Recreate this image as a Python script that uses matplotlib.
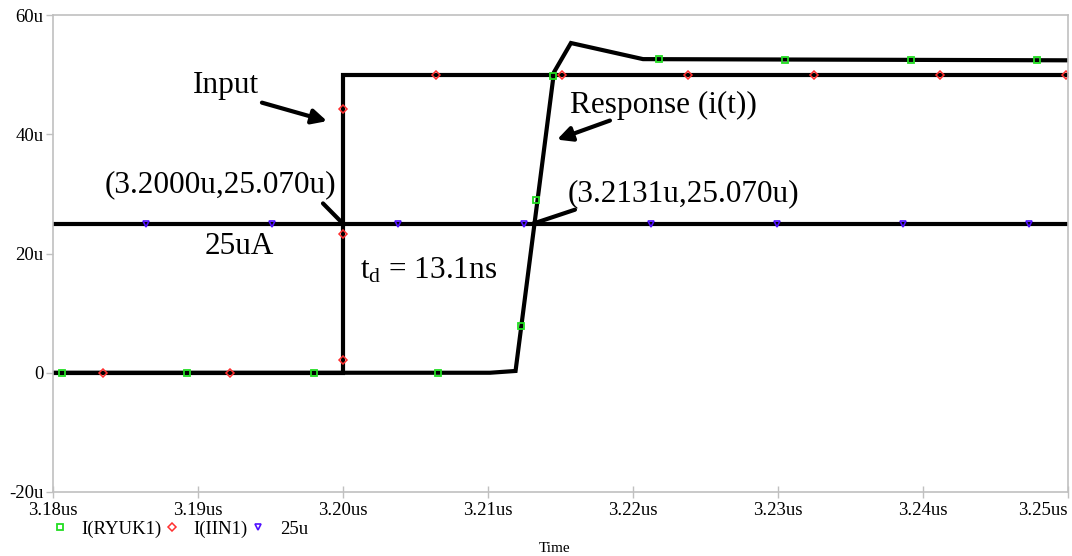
import matplotlib
matplotlib.use("Agg")
import matplotlib.pyplot as plt

plt.rcParams['font.family'] = ['Liberation Serif', 'DejaVu Serif']
plt.rcParams['mathtext.fontset'] = 'custom'
plt.rcParams['mathtext.rm'] = 'Liberation Serif'
plt.rcParams['mathtext.it'] = 'Liberation Serif:italic'

# ---- traces (time in us, current in uA) ----
t_in = [3.18, 3.20, 3.20, 3.25]
i_in = [0, 0, 50, 50]

t_resp = [3.18, 3.21014, 3.21190, 3.21455, 3.21572, 3.22069, 3.25]
i_resp = [0, 0, 0.3, 50.4, 55.3, 52.6, 52.4]

t_ref = [3.18, 3.25]
i_ref = [25, 25]

# ---- symbol markers (PSpice style) ----
mk_resp_t = [3.18062, 3.18924, 3.19800, 3.20655, 3.21228, 3.21329, 3.21450,
             3.22179, 3.23048, 3.23917, 3.24786]
mk_resp_v = [0, 0, 0, 0, 7.9, 29.0, 49.7, 52.6, 52.4, 52.4, 52.4]

mk_in_t = [3.18345, 3.19221, 3.20, 3.20, 3.20, 3.20639, 3.21508, 3.22379,
           3.23248, 3.24117, 3.24986]
mk_in_v = [0, 0, 2.2, 44.3, 23.2, 50, 50, 50, 50, 50, 50]

mk_ref_t = [3.18641, 3.19510, 3.20379, 3.21248, 3.22122, 3.22991, 3.23860, 3.24731]
mk_ref_v = [25] * 8

xticks = [3.18, 3.19, 3.20, 3.21, 3.22, 3.23, 3.24, 3.25]
xlabels = ['3.18us', '3.19us', '3.20us', '3.21us', '3.22us', '3.23us', '3.24us', '3.25us']
yticks = [-20, 0, 20, 40, 60]
ylabels = ['-20u', '0', '20u', '40u', '60u']

fig = plt.figure(figsize=(10.72, 5.56), dpi=100)
ax = fig.add_axes([53/1072, 1-492/556, (1068-53)/1072, (492-15)/556])

lw = 3
ax.plot(t_ref, i_ref, color='black', lw=lw, solid_capstyle='butt')
ax.plot(t_in, i_in, color='black', lw=lw, solid_joinstyle='miter')
ax.plot(t_resp, i_resp, color='black', lw=lw, solid_joinstyle='miter')

ax.plot(mk_resp_t, mk_resp_v, ls='none', marker='s', ms=5, mfc='none',
        mec='#22dd22', mew=1.3, label='I(RYUK1)')
ax.plot(mk_in_t, mk_in_v, ls='none', marker='D', ms=4.5, mfc='none',
        mec='#ff3030', mew=1.1, label='I(IIN1)')
ax.plot(mk_ref_t, mk_ref_v, ls='none', marker='v', ms=5, mfc='none',
        mec='#5010ff', mew=1.2, label='25u')

ax.set_xlim(3.18, 3.25)
ax.set_ylim(-20, 60)
ax.set_xticks(xticks)
ax.set_xticklabels(xlabels)
ax.get_xticklabels()[-1].set_horizontalalignment('right')
ax.set_yticks(yticks)
ax.set_yticklabels(ylabels)
ax.tick_params(axis='x', direction='inout', length=8, width=1, color='#c0c0c0',
               labelsize=13.5, pad=3)
ax.tick_params(axis='y', direction='out', length=5, width=1, color='#c0c0c0',
               labelsize=13.5, pad=2)
for s in ax.spines.values():
    s.set_color('#c0c0c0')
    s.set_linewidth(1.2)

# ---- annotations ----
fs = 22.5
ax.text(3.18966, 47.0, 'Input', fontsize=fs)
ax.text(3.21566, 43.6, 'Response (i(t))', fontsize=fs)
ax.text(3.18359, 30.2, '(3.2000u,25.070u)', fontsize=fs)
ax.text(3.21552, 28.7, '(3.2131u,25.070u)', fontsize=fs)
ax.text(3.19048, 20.0, '25uA', fontsize=fs)
ax.text(3.20117, 15.8, r'$\mathrm{t_d}$ = 13.1ns', fontsize=fs)

arrow = dict(arrowstyle='-|>', color='black', lw=3, mutation_scale=22,
             shrinkA=0, shrinkB=0)
ax.annotate('', xy=(3.19890, 42.2), xytext=(3.19441, 45.3), arrowprops=arrow)
ax.annotate('', xy=(3.21476, 39.1), xytext=(3.21841, 42.3), arrowprops=arrow)
plain = dict(arrowstyle='-', color='black', lw=3, shrinkA=0, shrinkB=0)
ax.annotate('', xy=(3.2000, 25.0), xytext=(3.19862, 28.4), arrowprops=plain)
ax.annotate('', xy=(3.21310, 25.0), xytext=(3.21600, 27.35), arrowprops=plain)

fig.text(555/1072, 1-548/556, 'Time', fontsize=11, ha='center', va='center')

ax.legend(loc='center left', bbox_to_anchor=(52.5/1072, 1-529/556),
          bbox_transform=fig.transFigure, ncol=3, frameon=False,
          fontsize=13.5, handlelength=0.8, handletextpad=0.75,
          columnspacing=0.15, borderpad=0, borderaxespad=0, markerscale=0.9)

fig.savefig('out.png', dpi=100)
